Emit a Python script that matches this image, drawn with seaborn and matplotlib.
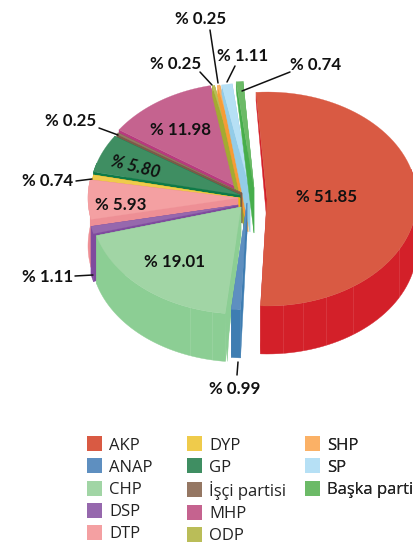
import numpy as np
import seaborn as sns
import matplotlib.pyplot as plt
from matplotlib.patches import Patch

parties = ["AKP", "ANAP", "CHP", "DSP", "DTP", "DYP", "GP", "İşçi partisi",
           "MHP", "ODP", "SHP", "SP", "Başka parti"]
shares = [51.85, 0.99, 19.01, 1.11, 5.93, 0.74, 5.80, 0.25, 11.98, 0.25, 0.25, 1.11, 0.74]
face_colors = ["#D95A43", "#5E8FC0", "#A1D5A5", "#9668AD", "#F4A0A2", "#EFCB4B", "#3F8E62",
               "#957763", "#C5638F", "#BABD58", "#FBB166", "#B6E0F5", "#6CBA67"]
wall_colors = ["#D32029", "#3E7DB2", "#8CCE94", "#7F4B9E", "#EE8F95", "#EDB90F", "#0E7A48",
               "#7C5A48", "#B83A7F", "#A3AB32", "#F79C36", "#93CCE8", "#47AE4C"]

# top face apex of every slice, in pixels of the picture
apex_x = [267, 247, 241, 238, 238, 240, 240, 242, 243, 245, 248, 250, 254]
apex_y = [199, 203, 207, 205, 198, 198, 195, 193, 190, 190, 190, 190, 188]
apex_depth = [24, 30, 30, 30, 30, 30, 30, 30, 30, 42, 42, 42, 45]
draw_order = [8, 9, 10, 11, 12, 7, 6, 5, 4, 3, 2, 1, 0]

RX, RY = 150, 107
DEPTH = 48
START = -4.2

OUTSIDE = [(1, 235, 389, 238, 362, 237, 375), (3, 48, 277, 75, 276, 93, 275),
           (5, 48, 181, 76, 181, 92, 179), (7, 71, 121, 99, 128, 118, 135),
           (9, 176, 64, 200, 72, 212, 85), (10, 201, 19, 210, 30, 218, 83),
           (11, 243, 56, 235, 66, 227, 82), (12, 316, 65, 290, 72, 242, 91)]
INSIDE = [(0, 327, 197, 0), (2, 175, 262, 0), (4, 121, 205, 0), (6, 135, 167, -14), (8, 181, 130, 0)]
SEAMS = [(0, 174), (0, 166), (0, 157), (0, 145), (0, 118), (2, 200), (2, 191)]
LEGEND_COLS = [(0, 5, 84), (5, 10, 184), (10, 13, 302)]


def rim(i, theta):
    t = np.radians(theta)
    return apex_x[i] + RX * np.sin(t), apex_y[i] - RY * np.cos(t)


def depth_at(theta):
    t = np.radians(theta)
    if np.cos(t) < 0:
        return DEPTH
    return 8 + (DEPTH - 8) * np.sin(t) ** 2


sns.set_theme(style="white")
plt.rcParams["font.family"] = ["Open Sans", "DejaVu Sans"]
palette = sns.color_palette(face_colors)

fig, ax = plt.subplots(figsize=(4.13, 5.45), dpi=100)
ax.set_position([0, 0, 1, 1])
ax.set_xlim(0, 413)
ax.set_ylim(545, 0)
ax.axis("off")

edges = START + 3.6 * np.concatenate([[0], np.cumsum(shares)])

for i in draw_order:
    a, b = edges[i], edges[i + 1]
    thetas = np.linspace(a, b, 80)
    ax_, ay_ = apex_x[i], apex_y[i]
    d = apex_depth[i]
    kw = dict(color=wall_colors[i], lw=0.3)

    # cut walls
    for th in (a, b):
        rx_, ry_ = rim(i, th)
        ax.fill([ax_, rx_, rx_, ax_], [ay_, ry_, ry_ + depth_at(th), ay_ + d], **kw)
    # outer wall
    front = [t for t in thetas if np.cos(np.radians(t)) < 0.3]
    if front:
        xs, ys = zip(*[rim(i, t) for t in front])
        low = [y + depth_at(t) for y, t in zip(ys, front)]
        ax.fill(list(xs) + list(xs[::-1]), list(ys) + low[::-1], **kw)
    if parties[i] == "CHP":
        rx_, ry_ = rim(i, a)
        ax.fill([ax_, rx_ + 5, rx_ + 2, rx_], [ay_, ry_, ry_ + DEPTH, ry_], **kw)
    for j, th in SEAMS:
        if j == i:
            rx_, ry_ = rim(i, th)
            ax.plot([rx_, rx_], [ry_, ry_ + DEPTH], color="white", alpha=0.1, lw=0.7)
    # top face
    xs, ys = zip(*[rim(i, t) for t in thetas])
    ax.fill([ax_] + list(xs), [ay_] + list(ys), color=palette[i], lw=0.2)

label_kw = dict(family=["Lato", "DejaVu Sans"], fontsize=12.2, fontweight="bold", color="#111111",
                ha="center", va="center")
for i, x, y, rot in INSIDE:
    style = "italic" if rot else "normal"
    ax.text(x, y, f"% {shares[i]:.2f}", rotation=rot, style=style, **label_kw)
for i, x, y, x0, y0, x1, y1 in OUTSIDE:
    ax.text(x, y, f"% {shares[i]:.2f}", **label_kw)
    ax.plot([x0, x1], [y0, y1], color="#111111", lw=1.1)

handles = [Patch(color=c, label=p, lw=0) for c, p in zip(face_colors, parties)]
for lo, hi, left in LEGEND_COLS:
    leg = ax.legend(handles=handles[lo:hi], loc="upper left",
                    bbox_to_anchor=(left / 413, 1 - 433 / 545),
                    frameon=False, fontsize=12, labelcolor="#222222", handlelength=0.9,
                    handleheight=1.0, handletextpad=0.4, labelspacing=0.3, borderpad=0.2,
                    borderaxespad=0)
    ax.add_artist(leg)

fig.savefig("out.png", dpi=100)
